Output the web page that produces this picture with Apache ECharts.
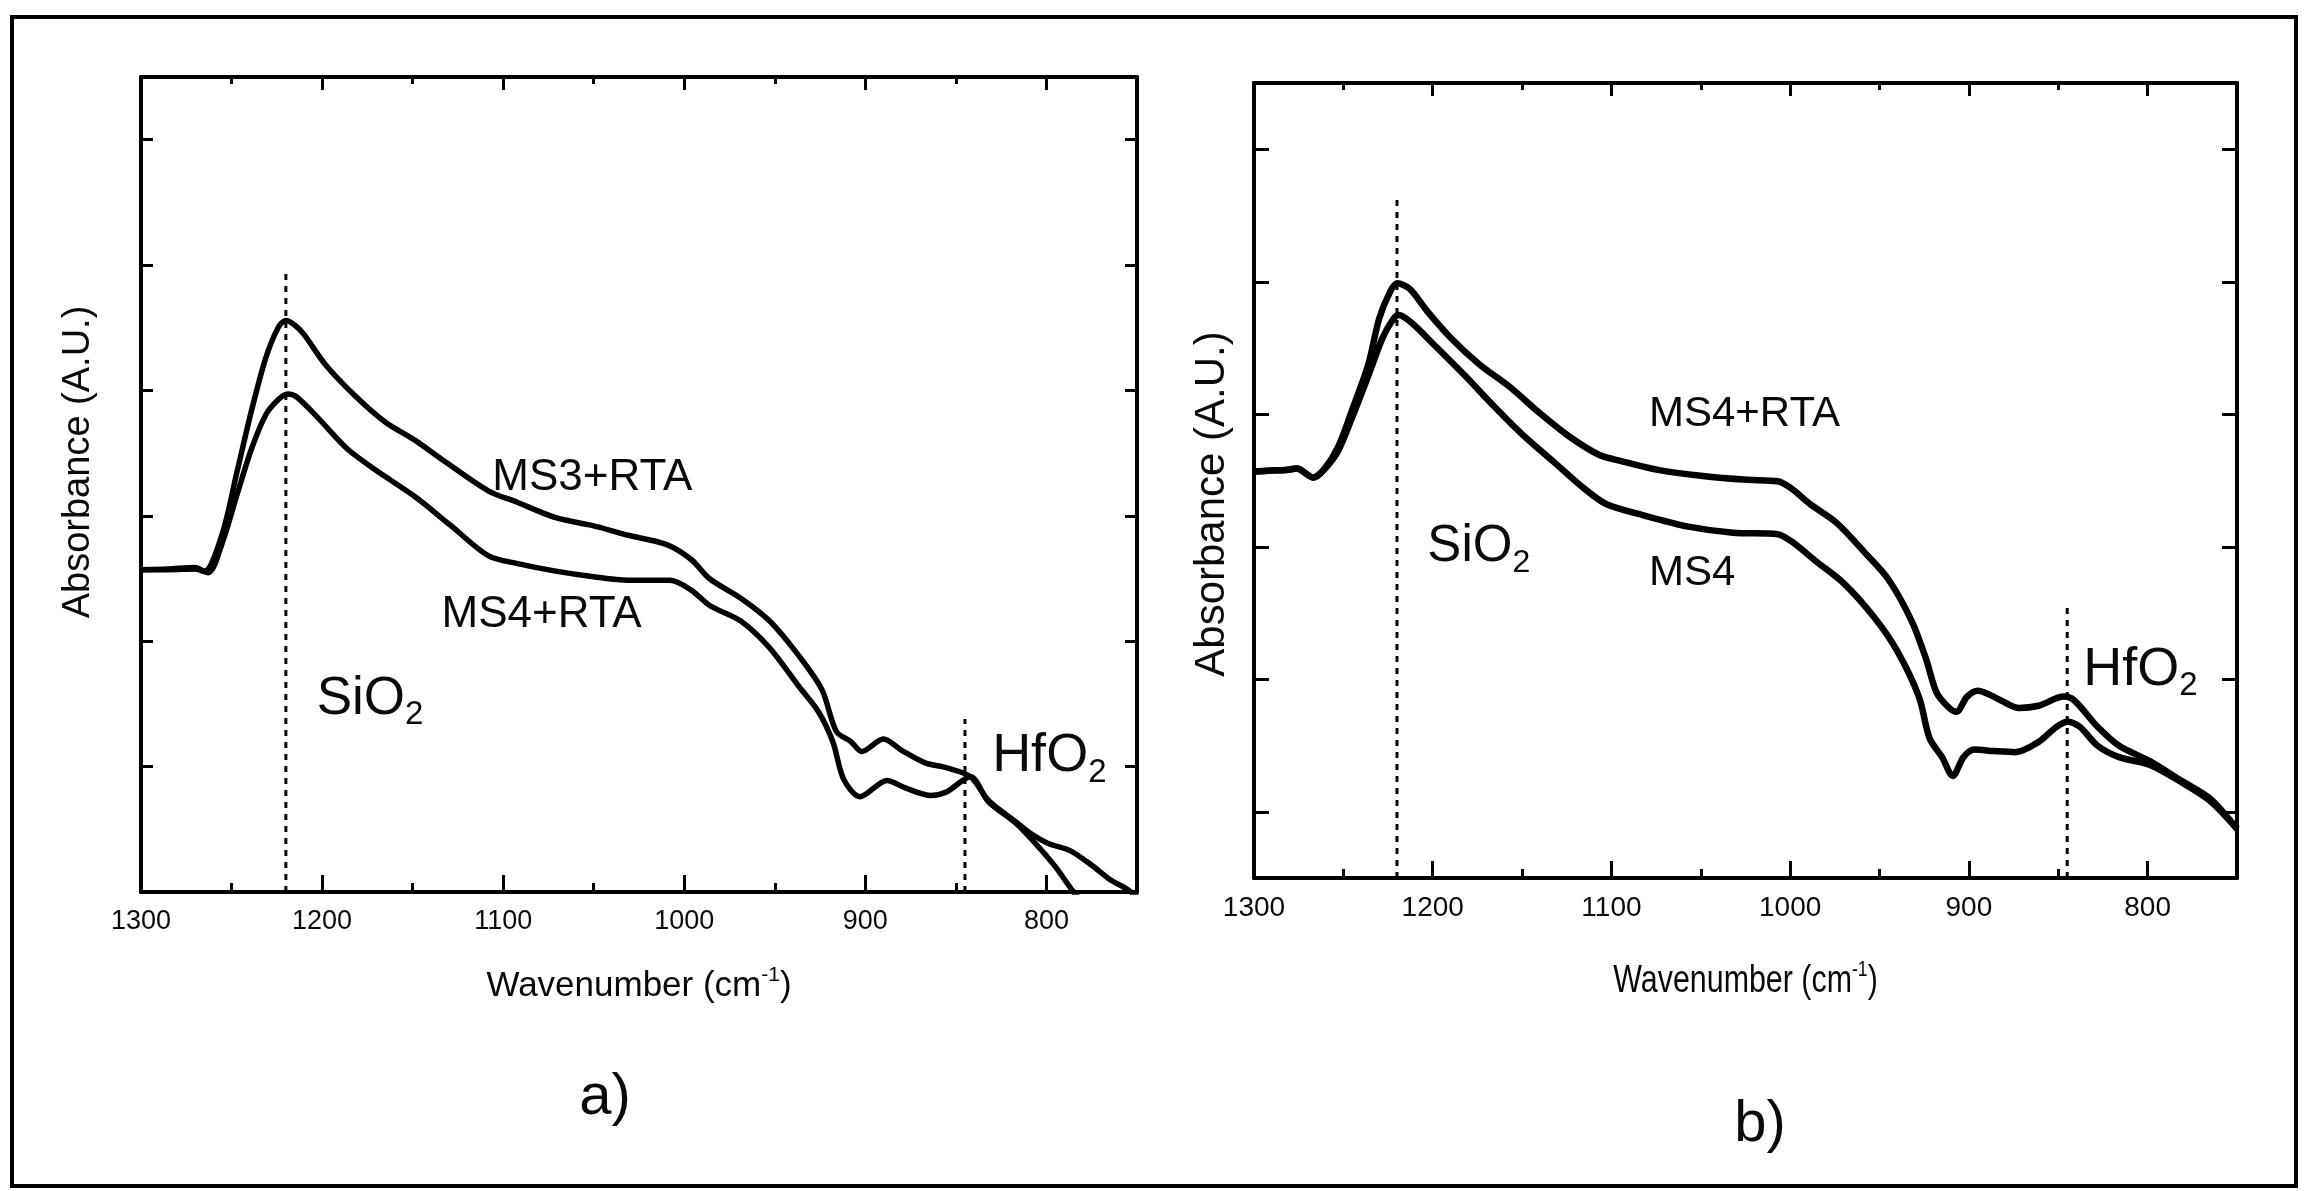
<!DOCTYPE html>
<html>
<head>
<meta charset="utf-8">
<script src="https://cdn.jsdelivr.net/npm/echarts@6/dist/echarts.min.js"></script>
<style>
  html, body { margin: 0; padding: 0; background: #fff; }
  #chart { width: 2304px; height: 1191px; }
</style>
</head>
<body>
<div id="chart"></div>
<script>
// ---- Panel a): FTIR absorbance after RTA ----
const waveA_ms3rta = [1300,1285,1270,1265,1255,1247,1239,1231,1224,1220,1215,1210,1198,1182,1165,1149,1133,1108,1092,1071,1051,1031,1010,996,986,969,953,937,924,916,908,902,890,880,867,855,842,832,817,808,799,787,775,765,756,748];
const absA_ms3rta  = [2.571,2.577,2.589,2.558,2.863,3.35,3.838,4.264,4.508,4.557,4.52,4.447,4.203,3.96,3.747,3.606,3.442,3.198,3.107,2.985,2.924,2.845,2.772,2.65,2.498,2.345,2.163,1.889,1.614,1.28,1.2,1.12,1.22,1.13,1.03,0.99,0.92,0.73,0.56,0.46,0.387,0.33,0.213,0.1,0.027,-0.06];

const waveA_ms4rta = [1300,1285,1270,1263,1255,1247,1239,1231,1224,1219,1214,1202,1186,1169,1149,1129,1108,1092,1071,1051,1031,1008,996,986,969,953,937,926,918,912,903,888,878,864,855,842,832,817,805,795,785,777];
const absA_ms4rta  = [2.571,2.571,2.577,2.546,2.79,3.168,3.533,3.808,3.929,3.972,3.948,3.777,3.533,3.351,3.156,2.924,2.68,2.619,2.559,2.516,2.486,2.486,2.406,2.285,2.163,1.949,1.645,1.44,1.2,0.9,0.76,0.89,0.83,0.77,0.8,0.92,0.72,0.55,0.37,0.2,0.0,-0.13];

// ---- Panel b): MS4 before and after RTA ----
const waveB_ms4rta = [1300,1290,1282,1276,1267,1261,1253,1245,1236,1230,1224,1220,1213,1203,1190,1174,1157,1140,1124,1107,1095,1074,1049,1024,1007,999,989,974,958,945,932,924,918,911,907,901,895,882,872,861,847,841,828,816,799,782,765,750];
const absB_ms4rta  = [3.068,3.075,3.08,3.091,3.023,3.08,3.251,3.536,3.878,4.22,4.42,4.488,4.448,4.277,4.078,3.878,3.707,3.507,3.336,3.194,3.148,3.08,3.034,3.005,2.994,2.937,2.823,2.68,2.452,2.253,1.939,1.654,1.397,1.283,1.254,1.369,1.414,1.34,1.283,1.3,1.369,1.34,1.141,0.998,0.884,0.741,0.599,0.371];

const waveB_ms4 = [1300,1290,1282,1276,1267,1261,1253,1245,1236,1228,1222,1219,1212,1199,1182,1166,1149,1132,1115,1103,1082,1057,1032,1007,999,986,970,953,940,928,922,915,909,903,897,886,874,861,851,845,838,828,816,799,782,765,750];
const absB_ms4  = [3.068,3.075,3.08,3.091,3.023,3.08,3.222,3.479,3.792,4.078,4.22,4.249,4.192,4.021,3.792,3.564,3.336,3.137,2.937,2.823,2.737,2.652,2.606,2.595,2.538,2.395,2.224,1.968,1.711,1.369,1.055,0.912,0.77,0.912,0.969,0.958,0.95,1.027,1.141,1.18,1.141,0.998,0.912,0.855,0.73,0.582,0.371];

// Band positions marked with dotted lines (cm^-1) and their heights
const bandSiO2 = 1220;
const bandHfO2 = 845;
const bandTopA = [4.95, 1.38];
const bandTopB = [5.15, 2.05];

// Axis ticks
const xTickLabels = [1300, 1200, 1100, 1000, 900, 800];
const yTicksA = [1, 2, 3, 4, 5, 6];
const yTicksB = [0.5, 1.5, 2.5, 3.5, 4.5, 5.5];

const SANS = "'Liberation Sans', Arial, Helvetica, sans-serif";
const INK = '#0a0a0a';

const grids = [
  { left: 141, top: 77, width: 996, height: 815 },
  { left: 1254, top: 83, width: 983, height: 795 }
];
const yMax = [6.5, 6];
const yTicks = [yTicksA, yTicksB];
const labelSize = [27, 28];

function zip(xs, ys) { return xs.map((x, i) => [x, ys[i]]); }

const xAxes = [], yAxes = [];
grids.forEach((g, gi) => {
  const base = { gridIndex: gi, type: 'value', inverse: true, min: 750, max: 1300, interval: 50,
                 splitLine: { show: false } };
  // bottom: minor ticks every 50 with labels at the hundreds
  xAxes.push(Object.assign({}, base, {
    position: 'bottom',
    axisLine: { onZero: false, lineStyle: { color: '#000', width: 4 } },
    axisTick: { inside: true, length: 9, lineStyle: { color: '#000', width: 3 } },
    axisLabel: { customValues: xTickLabels, color: INK, fontSize: labelSize[gi],
                 fontFamily: SANS, margin: 16, formatter: v => String(v) }
  }));
  // bottom: major ticks at the hundreds
  xAxes.push(Object.assign({}, base, {
    position: 'bottom',
    axisLine: { show: false, onZero: false },
    axisTick: { inside: true, length: 17, customValues: xTickLabels, lineStyle: { color: '#000', width: 3 } },
    axisLabel: { show: false }
  }));
  // top mirror
  xAxes.push(Object.assign({}, base, {
    position: 'top',
    axisLine: { onZero: false, lineStyle: { color: '#000', width: 4 } },
    axisTick: { inside: true, length: 7, lineStyle: { color: '#000', width: 3 } },
    axisLabel: { show: false }
  }));
  xAxes.push(Object.assign({}, base, {
    position: 'top',
    axisLine: { show: false, onZero: false },
    axisTick: { inside: true, length: 13, customValues: xTickLabels, lineStyle: { color: '#000', width: 3 } },
    axisLabel: { show: false }
  }));
  ['left', 'right'].forEach(pos => {
    yAxes.push({
      gridIndex: gi, type: 'value', min: 0, max: yMax[gi], interval: 1, position: pos,
      axisLine: { onZero: false, lineStyle: { color: '#000', width: 4 } },
      axisTick: { inside: true, length: gi ? 15 : 12, customValues: yTicks[gi],
                  lineStyle: { color: '#000', width: 3 } },
      axisLabel: { show: false },
      splitLine: { show: false }
    });
  });
});

function curve(name, xs, ys, gi, width) {
  return {
    name, type: 'line', xAxisIndex: gi * 4, yAxisIndex: gi * 2,
    data: zip(xs, ys), showSymbol: false, symbol: 'none', smooth: 0.3, clip: true,
    lineStyle: { color: '#000', width: width }, silent: true, z: 4
  };
}
function band(x, top, gi) {
  return {
    type: 'line', xAxisIndex: gi * 4, yAxisIndex: gi * 2,
    data: [[x, 0], [x, top]], showSymbol: false, symbol: 'none',
    lineStyle: { color: '#000', width: 3, type: [6, 6] }, silent: true, z: 3
  };
}

const series = [
  curve('MS3+RTA', waveA_ms3rta, absA_ms3rta, 0, 5.5),
  curve('MS4+RTA', waveA_ms4rta, absA_ms4rta, 0, 5.5),
  band(bandSiO2, bandTopA[0], 0),
  band(bandHfO2, bandTopA[1], 0),
  curve('MS4+RTA', waveB_ms4rta, absB_ms4rta, 1, 6.5),
  curve('MS4', waveB_ms4, absB_ms4, 1, 6.5),
  band(bandSiO2, bandTopB[0], 1),
  band(bandHfO2, bandTopB[1], 1)
];

const chart = echarts.init(document.getElementById('chart'), null, { renderer: 'canvas' });
chart.setOption({
  animation: false,
  backgroundColor: '#fff',
  grid: grids.map(g => Object.assign({ show: false, containLabel: false }, g)),
  xAxis: xAxes,
  yAxis: yAxes,
  series: series
});

// ---- text annotations ----
const ctx = document.createElement('canvas').getContext('2d');
function textWidth(str, size) {
  ctx.font = size + 'px ' + SANS;
  return ctx.measureText(str).width;
}
// Lays out a run of text pieces left to right; pieces may be shifted vertically (sub/superscripts)
// and the whole run may be horizontally condensed.
function run(pieces, x, y, anchor, squeeze) {
  const k = squeeze || 1;
  const widths = pieces.map(p => textWidth(p.t, p.size) * k);
  const total = widths.reduce((a, b) => a + b, 0);
  let cx = anchor === 'center' ? x - total / 2 : x;
  return pieces.map((p, i) => {
    const el = {
      type: 'text', x: cx, y: y + (p.dy || 0), scaleX: k, z: 10, silent: true,
      style: { text: p.t, fill: INK, fontSize: p.size, fontFamily: SANS,
               align: 'left', verticalAlign: 'middle', textAlign: 'left', textVerticalAlign: 'middle' }
    };
    cx += widths[i];
    return el;
  });
}
function at(gi, wn, a) { return chart.convertToPixel({ xAxisIndex: gi * 4, yAxisIndex: gi * 2 }, [wn, a]); }

const g = [];
// panel a)
let p = at(0, 1106, 3.30); g.push(...run([{ t: 'MS3+RTA', size: 44 }], p[0], p[1]));
p = at(0, 1134, 2.21); g.push(...run([{ t: 'MS4+RTA', size: 44 }], p[0], p[1]));
p = at(0, 1203, 1.54); g.push(...run([{ t: 'SiO', size: 53 }, { t: '2', size: 33, dy: 16 }], p[0], p[1]));
p = at(0, 830, 1.08); g.push(...run([{ t: 'HfO', size: 54 }, { t: '2', size: 33, dy: 16 }], p[0], p[1]));
// panel b)
p = at(1, 1079, 3.50); g.push(...run([{ t: 'MS4+RTA', size: 42 }], p[0], p[1]));
p = at(1, 1079, 2.30); g.push(...run([{ t: 'MS4', size: 42 }], p[0], p[1]));
p = at(1, 1203, 2.50); g.push(...run([{ t: 'SiO', size: 51 }, { t: '2', size: 32, dy: 16 }], p[0], p[1]));
p = at(1, 836, 1.57); g.push(...run([{ t: 'HfO', size: 54 }, { t: '2', size: 33, dy: 16 }], p[0], p[1]));

// axis titles
const gA = grids[0], gB = grids[1];
g.push(...run([{ t: 'Wavenumber (cm', size: 35 }, { t: '-1', size: 21, dy: -11 }, { t: ')', size: 35 }],
  gA.left + gA.width / 2, gA.top + gA.height + 94, 'center'));
g.push(...run([{ t: 'Wavenumber (cm', size: 38 }, { t: '-1', size: 22, dy: -12 }, { t: ')', size: 38 }],
  gB.left + gB.width / 2, gB.top + gB.height + 104, 'center', 0.8));
[[79, 462, 38], [1212, 504, 42]].forEach(([x, y, s]) => {
  g.push({ type: 'text', x: x, y: y, rotation: Math.PI / 2, z: 10, silent: true,
    style: { text: 'Absorbance (A.U.)', fill: INK, fontSize: s, fontFamily: SANS,
             align: 'center', verticalAlign: 'middle', textAlign: 'center', textVerticalAlign: 'middle' } });
});
// panel letters
g.push(...run([{ t: 'a)', size: 58 }], 605, 1098, 'center'));
g.push(...run([{ t: 'b)', size: 58 }], 1760, 1125, 'center'));

// outer frame of the figure
g.push({ type: 'rect', z: 1, silent: true, shape: { x: 12, y: 17, width: 2284, height: 1169 },
  style: { fill: 'none', stroke: '#000', lineWidth: 4 } });

chart.setOption({ graphic: { elements: g } });
</script>
</body>
</html>
